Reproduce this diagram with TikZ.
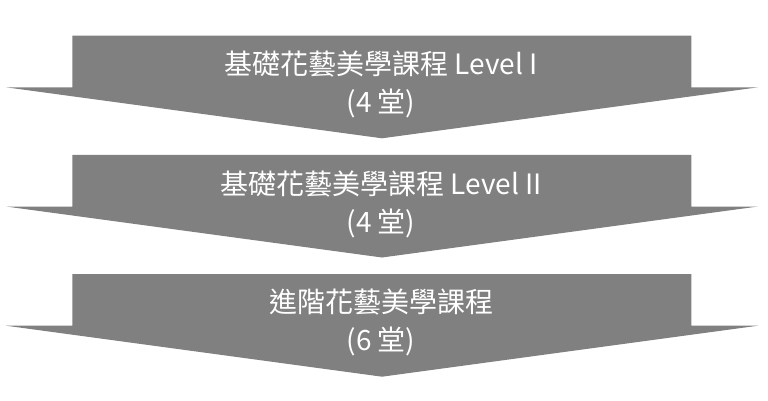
\documentclass[tikz,border=0pt]{standalone}
\usepackage{fontspec}
\newfontfamily\cjk{Noto Sans CJK TC}
\usepackage{tikz}
\usetikzlibrary{positioning}
\definecolor{arrowgray}{HTML}{808080}

\begin{document}
\begin{tikzpicture}[x=1pt, y=-1pt]
        \tikzstyle{downarrow} = [fill=arrowgray]
        \tikzstyle{arrowtext} = [text=white, align=center, inner sep=0pt, font=\cjk\fontsize{28}{38}\selectfont]

        \useasboundingbox (0,0) rectangle (768,401);

        \fill [downarrow] (72.3,35.7) -- (691.3,35.7) -- (691.3,87.3) -- (758,87.3) -- (382,138.3) -- (6,87.3) -- (72.3,87.3) -- cycle;
        \fill [downarrow] (72.3,154.9) -- (691.3,154.9) -- (691.3,206.5) -- (758,206.5) -- (382,257.5) -- (6,206.5) -- (72.3,206.5) -- cycle;
        \fill [downarrow] (72.3,274.1) -- (691.3,274.1) -- (691.3,325.7) -- (758,325.7) -- (382,376.7) -- (6,325.7) -- (72.3,325.7) -- cycle;

        \node [arrowtext] (level1) at (381,84) {基礎花藝美學課程 Level I\\(4 堂)};
        \node [arrowtext] (level2) at (381,204) {基礎花藝美學課程 Level II\\(4 堂)};
        \node [arrowtext] (advanced) at (381,322) {進階花藝美學課程\\(6 堂)};
    \end{tikzpicture}
\end{document}
